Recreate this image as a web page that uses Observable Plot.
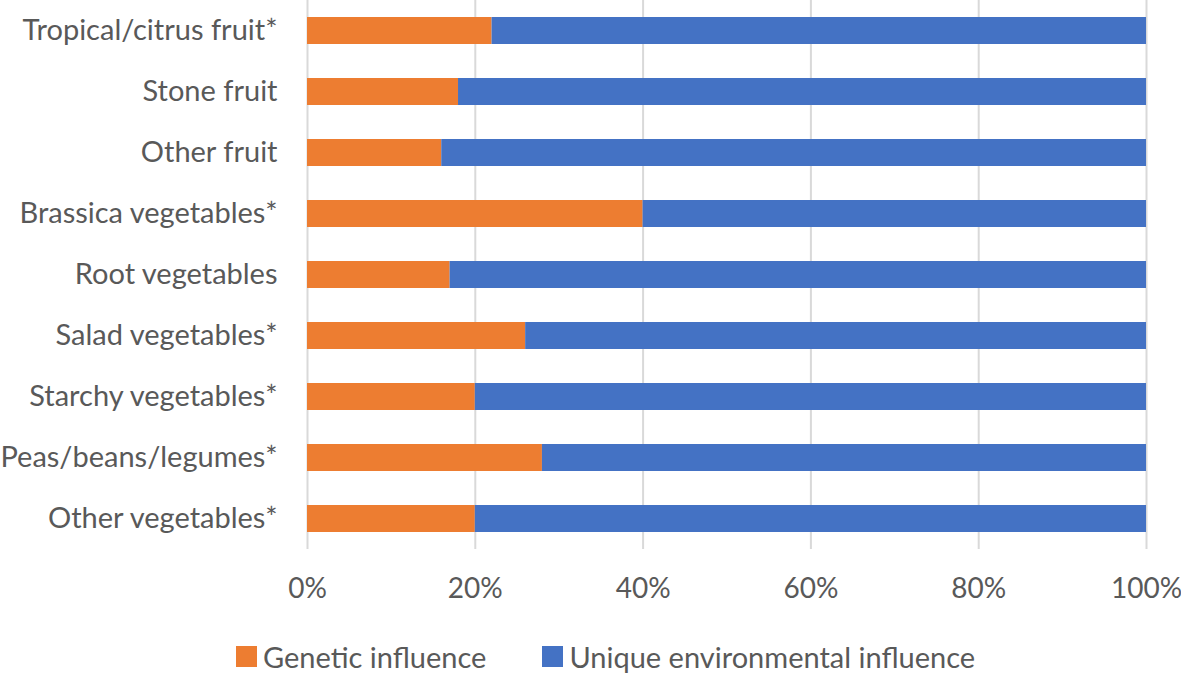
<!DOCTYPE html>
<html>
<head>
<meta charset="utf-8">
<script src="https://cdn.jsdelivr.net/npm/d3@7"></script>
<script src="https://cdn.jsdelivr.net/npm/@observablehq/plot@0.6"></script>
<style>
  html, body { margin: 0; padding: 0; background: #fff; }
  #chart { width: 1181px; height: 673px; position: relative; font-family: Lato, "Open Sans", sans-serif; color: #595959; overflow: hidden; }
  #chart svg { overflow: visible; }
  .legend { position: absolute; left: 236px; top: 641px; display: flex; align-items: center; font-size: 29px; line-height: 31px; white-space: nowrap; }
  .legend .item { display: flex; align-items: center; }
  .legend .sw { width: 21px; height: 21px; display: inline-block; margin-right: 6px; }
</style>
</head>
<body>
<div id="chart"></div>
<script>
const categories = [
  "Tropical/citrus fruit*",
  "Stone fruit",
  "Other fruit",
  "Brassica vegetables*",
  "Root vegetables",
  "Salad vegetables*",
  "Starchy vegetables*",
  "Peas/beans/legumes*",
  "Other vegetables*"
];
const genetic = [22, 18, 16, 40, 17, 26, 20, 28, 20];
const environmental = [78, 82, 84, 60, 83, 74, 80, 72, 80];
const seriesNames = ["Genetic influence", "Unique environmental influence"];
const seriesColors = ["#ED7D31", "#4472C4"];
const xTicks = [0, 20, 40, 60, 80, 100];

const rows = [
  ...categories.map((c, i) => ({category: c, series: seriesNames[0], value: genetic[i]})),
  ...categories.map((c, i) => ({category: c, series: seriesNames[1], value: environmental[i]}))
];

const plot = Plot.plot({
  width: 1181,
  height: 620,
  marginLeft: 307,
  marginRight: 35,
  marginTop: 0,
  marginBottom: 71,
  style: {fontFamily: "Lato, 'Open Sans', sans-serif", fontSize: "29px", color: "#595959", background: "#fff", overflow: "visible"},
  x: {domain: [0, 100], ticks: xTicks, tickFormat: d => d + "%"},
  y: {domain: categories, paddingInner: 0.55, paddingOuter: 0.275},
  color: {domain: seriesNames, range: seriesColors},
  marks: [
    Plot.ruleX(xTicks, {stroke: "#d9d9d9", strokeWidth: 2}),
    Plot.barX(rows, Plot.stackX({x: "value", y: "category", fill: "series"})),
    Plot.axisX({ticks: xTicks, tickFormat: d => d + "%", tickSize: 0, tickPadding: 29, label: null, fill: "#595959", fontSize: 28}),
    Plot.axisY({tickSize: 0, tickPadding: 30, label: null, fill: "#595959", fontSize: 29})
  ]
});
document.getElementById("chart").appendChild(plot);

const legend = document.createElement("div");
legend.className = "legend";
seriesNames.forEach((name, i) => {
  const item = document.createElement("div");
  item.className = "item";
  if (i > 0) item.style.marginLeft = "56px";
  const sw = document.createElement("span");
  sw.className = "sw";
  sw.style.background = seriesColors[i];
  const label = document.createElement("span");
  label.textContent = name;
  item.appendChild(sw);
  item.appendChild(label);
  legend.appendChild(item);
});
document.getElementById("chart").appendChild(legend);
</script>
</body>
</html>
